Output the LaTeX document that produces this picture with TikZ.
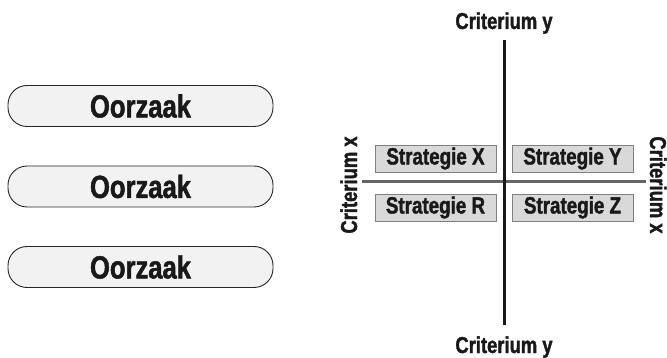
\documentclass[tikz,border=0pt]{standalone}
\usepackage{fontspec}
\newfontfamily\condbold{Liberation Sans Bold}[FakeStretch=0.8, FakeBold=1.5]
\begin{document}
\begin{tikzpicture}[x=1pt,y=-1pt,
  cause/.style={draw=black!85, fill=black!5, line width=0.9pt, rounded corners=19pt,
    minimum width=265pt, minimum height=41pt, inner sep=0pt,
    font=\condbold\fontsize{32}{32}\selectfont, text=black!90},
  strat/.style={draw=black!50, fill=black!15, line width=0.9pt,
    minimum width=121pt, minimum height=27pt, inner sep=0pt,
    font=\condbold\fontsize{23.5}{23.5}\selectfont, text=black!90},
  crit/.style={inner sep=0pt, font=\condbold\fontsize{23}{23}\selectfont, text=black!90}]
\useasboundingbox (0,0) rectangle (667,358);
% causes
\node[cause] (c1) at (140.5,106) {Oorzaak};
\node[cause] (c2) at (140.5,186.5) {Oorzaak};
\node[cause] (c3) at (140.5,267) {Oorzaak};
% axes
\coordinate (hl) at (362,181.5);
\coordinate (hr) at (646,181.5);
\coordinate (vt) at (504,40);
\coordinate (vb) at (504,325);
\draw[line width=3pt, black!60] (hl) -- (hr);
\draw[line width=3pt, black!90] (vt) -- (vb);
% strategies
\node[strat] (sx) at (435.5,158.5) {Strategie X};
\node[strat] (sy) at (572.5,158.5) {Strategie Y};
\node[strat] (sr) at (435.5,207.5) {Strategie R};
\node[strat] (sz) at (572.5,207.5) {Strategie Z};
% criteria labels
\node[crit, anchor=base] (cyt) at (504,29) {Criterium y};
\node[crit, anchor=base] (cyb) at (504,353) {Criterium y};
\node[crit, anchor=base, rotate=90] (cxl) at (357,185) {Criterium x};
\node[crit, anchor=base, rotate=-90] (cxr) at (650,185) {Criterium x};
\end{tikzpicture}
\end{document}
